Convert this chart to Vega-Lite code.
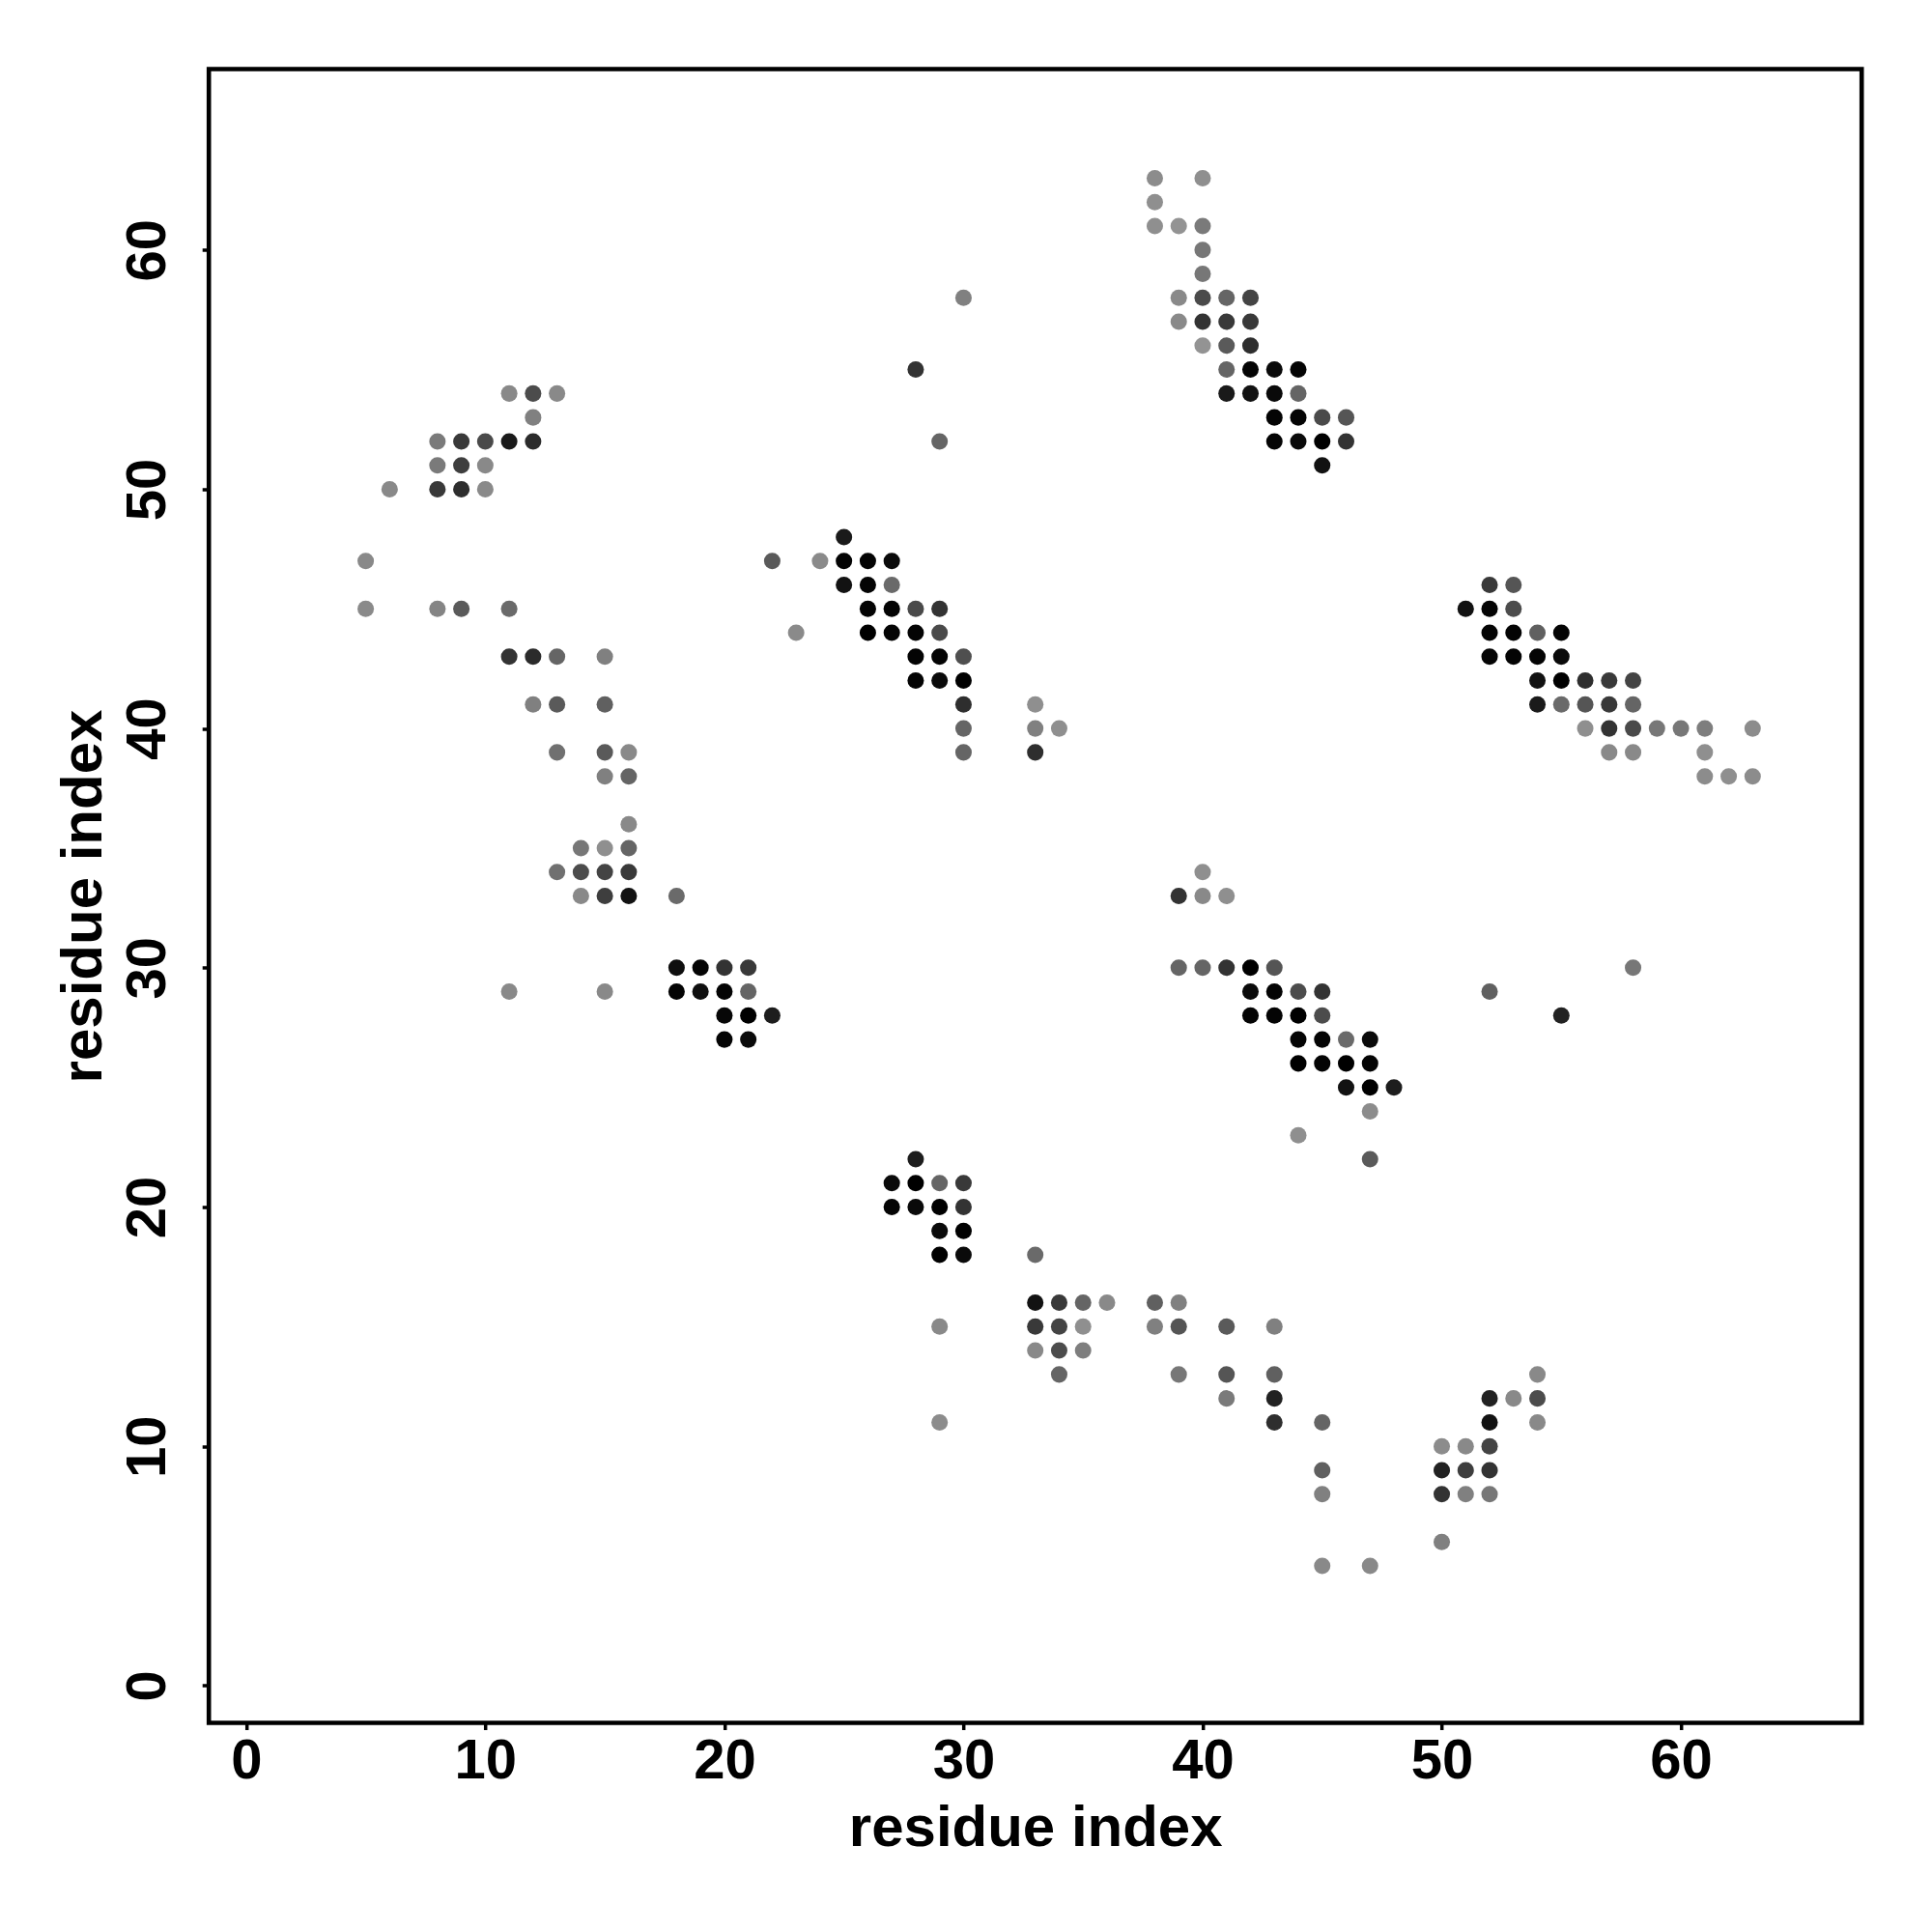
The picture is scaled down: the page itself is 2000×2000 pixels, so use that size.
{
  "$schema": "https://vega.github.io/schema/vega-lite/v6.json",
  "autosize": "none",
  "padding": {"left": 216.2, "top": 71.5, "right": 72.8, "bottom": 216.5},
  "width": 1711,
  "height": 1712,
  "background": "white",
  "config": {
    "font": "Liberation Sans",
    "view": {"stroke": "black", "strokeWidth": 4.6},
    "axis": {
      "grid": false,
      "domain": false,
      "tickColor": "black",
      "tickWidth": 3.5,
      "tickSize": 7,
      "labelColor": "black",
      "labelFont": "Liberation Sans",
      "labelFontWeight": "bold",
      "labelFontSize": 58,
      "titleColor": "black",
      "titleFont": "Liberation Sans",
      "titleFontWeight": "bold",
      "titleFontSize": 60
    }
  },
  "data": {
    "values": [
      {"i":11,"j":54,"p":0.07},{"i":12,"j":54,"p":0.48},{"i":13,"j":54,"p":0.07},{"i":12,"j":53,"p":0.13},
      {"i":8,"j":52,"p":0.17},{"i":9,"j":52,"p":0.61},{"i":10,"j":52,"p":0.5},{"i":11,"j":52,"p":0.82},{"i":12,"j":52,"p":0.71},
      {"i":8,"j":51,"p":0.17},{"i":9,"j":51,"p":0.58},{"i":10,"j":51,"p":0.07},
      {"i":6,"j":50,"p":0.07},{"i":8,"j":50,"p":0.61},{"i":9,"j":50,"p":0.69},{"i":10,"j":50,"p":0.06},
      {"i":5,"j":47,"p":0.07},{"i":5,"j":45,"p":0.06},{"i":8,"j":45,"p":0.1},{"i":9,"j":45,"p":0.39},{"i":11,"j":45,"p":0.28},
      {"i":11,"j":43,"p":0.65},{"i":12,"j":43,"p":0.71},{"i":13,"j":43,"p":0.31},{"i":15,"j":43,"p":0.13},
      {"i":23,"j":44,"p":0.06},
      {"i":12,"j":41,"p":0.13},{"i":13,"j":41,"p":0.39},{"i":15,"j":41,"p":0.35},
      {"i":13,"j":39,"p":0.24},{"i":15,"j":39,"p":0.39},{"i":16,"j":39,"p":0.07},
      {"i":15,"j":38,"p":0.13},{"i":16,"j":38,"p":0.31},{"i":16,"j":36,"p":0.07},
      {"i":14,"j":35,"p":0.19},{"i":15,"j":35,"p":0.03},{"i":16,"j":35,"p":0.31},
      {"i":13,"j":34,"p":0.24},{"i":14,"j":34,"p":0.48},{"i":15,"j":34,"p":0.54},{"i":16,"j":34,"p":0.61},
      {"i":14,"j":33,"p":0.07},{"i":15,"j":33,"p":0.58},{"i":16,"j":33,"p":0.88},{"i":18,"j":33,"p":0.28},
      {"i":18,"j":30,"p":0.9},{"i":19,"j":30,"p":0.97},{"i":20,"j":30,"p":0.65},{"i":21,"j":30,"p":0.61},
      {"i":11,"j":29,"p":0.07},{"i":15,"j":29,"p":0.07},{"i":18,"j":29,"p":0.97},{"i":19,"j":29,"p":0.9},{"i":20,"j":29,"p":0.97},{"i":21,"j":29,"p":0.31},
      {"i":20,"j":28,"p":0.95},{"i":21,"j":28,"p":1},{"i":22,"j":28,"p":0.8},
      {"i":20,"j":27,"p":0.97},{"i":21,"j":27,"p":0.93},
      {"i":30,"j":58,"p":0.13},{"i":28,"j":55,"p":0.65},{"i":29,"j":52,"p":0.31},
      {"i":25,"j":48,"p":0.82},
      {"i":22,"j":47,"p":0.39},{"i":24,"j":47,"p":0.06},{"i":25,"j":47,"p":0.97},{"i":26,"j":47,"p":0.97},{"i":27,"j":47,"p":0.93},
      {"i":25,"j":46,"p":0.88},{"i":26,"j":46,"p":0.97},{"i":27,"j":46,"p":0.28},
      {"i":26,"j":45,"p":0.97},{"i":27,"j":45,"p":0.97},{"i":28,"j":45,"p":0.5},{"i":29,"j":45,"p":0.65},
      {"i":26,"j":44,"p":1},{"i":27,"j":44,"p":0.97},{"i":28,"j":44,"p":0.97},{"i":29,"j":44,"p":0.5},
      {"i":28,"j":43,"p":0.97},{"i":29,"j":43,"p":0.97},{"i":30,"j":43,"p":0.46},
      {"i":28,"j":42,"p":0.97},{"i":29,"j":42,"p":0.93},{"i":30,"j":42,"p":1},
      {"i":30,"j":41,"p":0.69},{"i":33,"j":41,"p":0.03},
      {"i":30,"j":40,"p":0.31},{"i":33,"j":40,"p":0.13},{"i":34,"j":40,"p":0.03},
      {"i":30,"j":39,"p":0.31},{"i":33,"j":39,"p":0.69},
      {"i":38,"j":63,"p":0.05},{"i":40,"j":63,"p":0.03},{"i":38,"j":62,"p":0.03},
      {"i":38,"j":61,"p":0.03},{"i":39,"j":61,"p":0},{"i":40,"j":61,"p":0.17},
      {"i":40,"j":60,"p":0.19},{"i":40,"j":59,"p":0.19},
      {"i":39,"j":58,"p":0.07},{"i":40,"j":58,"p":0.5},{"i":41,"j":58,"p":0.31},{"i":42,"j":58,"p":0.54},
      {"i":39,"j":57,"p":0.07},{"i":40,"j":57,"p":0.65},{"i":41,"j":57,"p":0.61},{"i":42,"j":57,"p":0.61},
      {"i":40,"j":56,"p":0},{"i":41,"j":56,"p":0.39},{"i":42,"j":56,"p":0.69},
      {"i":41,"j":55,"p":0.31},{"i":42,"j":55,"p":0.97},{"i":43,"j":55,"p":0.93},{"i":44,"j":55,"p":0.97},
      {"i":41,"j":54,"p":0.82},{"i":42,"j":54,"p":0.88},{"i":43,"j":54,"p":0.93},{"i":44,"j":54,"p":0.31},
      {"i":43,"j":53,"p":0.97},{"i":44,"j":53,"p":0.97},{"i":45,"j":53,"p":0.5},{"i":46,"j":53,"p":0.42},
      {"i":43,"j":52,"p":0.97},{"i":44,"j":52,"p":0.93},{"i":45,"j":52,"p":1},{"i":46,"j":52,"p":0.65},
      {"i":45,"j":51,"p":0.88},
      {"i":52,"j":46,"p":0.61},{"i":53,"j":46,"p":0.42},
      {"i":51,"j":45,"p":0.88},{"i":52,"j":45,"p":0.97},{"i":53,"j":45,"p":0.48},
      {"i":52,"j":44,"p":0.97},{"i":53,"j":44,"p":0.97},{"i":54,"j":44,"p":0.35},{"i":55,"j":44,"p":0.97},
      {"i":52,"j":43,"p":0.97},{"i":53,"j":43,"p":0.97},{"i":54,"j":43,"p":0.97},{"i":55,"j":43,"p":0.93},
      {"i":54,"j":42,"p":0.88},{"i":55,"j":42,"p":1},{"i":56,"j":42,"p":0.69},{"i":57,"j":42,"p":0.61},{"i":58,"j":42,"p":0.54},
      {"i":54,"j":41,"p":0.82},{"i":55,"j":41,"p":0.28},{"i":56,"j":41,"p":0.42},{"i":57,"j":41,"p":0.61},{"i":58,"j":41,"p":0.31},
      {"i":56,"j":40,"p":0.03},{"i":57,"j":40,"p":0.65},{"i":58,"j":40,"p":0.5},{"i":59,"j":40,"p":0.19},{"i":60,"j":40,"p":0.19},{"i":61,"j":40,"p":0.14},{"i":63,"j":40,"p":0.05},
      {"i":57,"j":39,"p":0.07},{"i":58,"j":39,"p":0.07},{"i":61,"j":39,"p":0.03},
      {"i":61,"j":38,"p":0.05},{"i":62,"j":38,"p":0.03},{"i":63,"j":38,"p":0.05},
      {"i":40,"j":34,"p":0.03},
      {"i":39,"j":33,"p":0.65},{"i":40,"j":33,"p":0.07},{"i":41,"j":33,"p":0.03},
      {"i":39,"j":30,"p":0.31},{"i":40,"j":30,"p":0.31},{"i":41,"j":30,"p":0.65},{"i":42,"j":30,"p":1},{"i":43,"j":30,"p":0.42},
      {"i":42,"j":29,"p":0.93},{"i":43,"j":29,"p":0.97},{"i":44,"j":29,"p":0.48},{"i":45,"j":29,"p":0.65},
      {"i":42,"j":28,"p":0.97},{"i":43,"j":28,"p":0.97},{"i":44,"j":28,"p":1},{"i":45,"j":28,"p":0.48},
      {"i":44,"j":27,"p":0.97},{"i":45,"j":27,"p":0.97},{"i":46,"j":27,"p":0.28},{"i":47,"j":27,"p":0.93},
      {"i":44,"j":26,"p":1},{"i":45,"j":26,"p":0.97},{"i":46,"j":26,"p":1},{"i":47,"j":26,"p":0.97},
      {"i":46,"j":25,"p":0.88},{"i":47,"j":25,"p":1},{"i":48,"j":25,"p":0.8},
      {"i":47,"j":24,"p":0.05},{"i":44,"j":23,"p":0.03},{"i":47,"j":22,"p":0.39},
      {"i":52,"j":29,"p":0.35},{"i":55,"j":28,"p":0.77},{"i":58,"j":30,"p":0.19},
      {"i":28,"j":22,"p":0.8},
      {"i":27,"j":21,"p":0.93},{"i":28,"j":21,"p":1},{"i":29,"j":21,"p":0.31},{"i":30,"j":21,"p":0.61},
      {"i":27,"j":20,"p":0.97},{"i":28,"j":20,"p":0.93},{"i":29,"j":20,"p":1},{"i":30,"j":20,"p":0.65},
      {"i":29,"j":19,"p":0.93},{"i":30,"j":19,"p":1},
      {"i":29,"j":18,"p":1},{"i":30,"j":18,"p":0.93},{"i":33,"j":18,"p":0.28},
      {"i":33,"j":16,"p":0.88},{"i":34,"j":16,"p":0.61},{"i":35,"j":16,"p":0.31},{"i":36,"j":16,"p":0.07},
      {"i":29,"j":15,"p":0.07},{"i":33,"j":15,"p":0.61},{"i":34,"j":15,"p":0.54},{"i":35,"j":15,"p":0.03},
      {"i":33,"j":14,"p":0.07},{"i":34,"j":14,"p":0.48},{"i":35,"j":14,"p":0.14},
      {"i":34,"j":13,"p":0.31},{"i":29,"j":11,"p":0.05},
      {"i":38,"j":16,"p":0.35},{"i":39,"j":16,"p":0.13},
      {"i":38,"j":15,"p":0.13},{"i":39,"j":15,"p":0.42},{"i":41,"j":15,"p":0.39},{"i":43,"j":15,"p":0.13},
      {"i":39,"j":13,"p":0.19},{"i":41,"j":13,"p":0.42},{"i":43,"j":13,"p":0.35},{"i":54,"j":13,"p":0.07},
      {"i":41,"j":12,"p":0.17},{"i":43,"j":12,"p":0.77},{"i":52,"j":12,"p":0.77},{"i":53,"j":12,"p":0.07},{"i":54,"j":12,"p":0.48},
      {"i":43,"j":11,"p":0.69},{"i":45,"j":11,"p":0.31},{"i":52,"j":11,"p":0.88},{"i":54,"j":11,"p":0.07},
      {"i":50,"j":10,"p":0.05},{"i":51,"j":10,"p":0.07},{"i":52,"j":10,"p":0.54},
      {"i":45,"j":9,"p":0.35},{"i":50,"j":9,"p":0.77},{"i":51,"j":9,"p":0.58},{"i":52,"j":9,"p":0.65},
      {"i":45,"j":8,"p":0.13},{"i":50,"j":8,"p":0.65},{"i":51,"j":8,"p":0.13},{"i":52,"j":8,"p":0.19},
      {"i":50,"j":6,"p":0.13},{"i":45,"j":5,"p":0.07},{"i":47,"j":5,"p":0.07}
    ]
  },
  "mark": {"type": "circle", "size": 290, "opacity": 1},
  "encoding": {
    "x": {
      "field": "i", "type": "quantitative",
      "scale": {"domain": [-1.56, 67.56], "nice": false, "zero": false},
      "axis": {
        "values": [0, 10, 20, 30, 40, 50, 60],
        "title": "residue index",
        "labelBaseline": "alphabetic",
        "labelPadding": 49.5,
        "titleBaseline": "alphabetic",
        "titleY": 127
      }
    },
    "y": {
      "field": "j", "type": "quantitative",
      "scale": {"domain": [-1.56, 67.56], "nice": false, "zero": false},
      "axis": {
        "values": [0, 10, 20, 30, 40, 50, 60],
        "title": "residue index",
        "labelAngle": -90,
        "labelAlign": "center",
        "labelBaseline": "alphabetic",
        "labelPadding": 38.5,
        "titleAngle": -90,
        "titleBaseline": "alphabetic",
        "titleX": -112
      }
    },
    "color": {
      "field": "p", "type": "quantitative",
      "scale": {"domain": [0, 1], "range": ["#939393", "#000000"], "interpolate": "rgb"},
      "legend": null
    }
  }
}
